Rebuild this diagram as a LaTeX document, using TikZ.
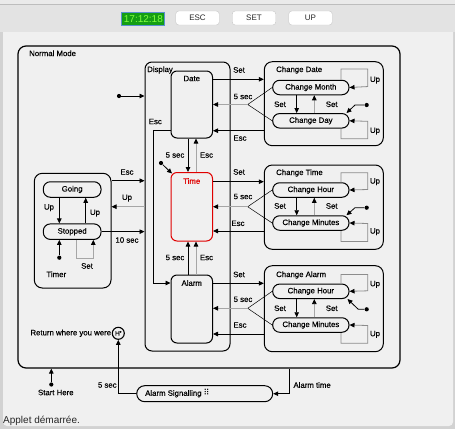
\documentclass[tikz,border=0pt]{standalone}
\usepackage{fontspec}
\setmainfont{Liberation Sans}
\newfontfamily\djv{DejaVu Sans}
\newfontfamily\lblfam[FakeBold=0.35]{Liberation Sans}
\usetikzlibrary{arrows.meta}
\definecolor{panel}{HTML}{F0F0F0}
\definecolor{toolbar}{HTML}{E3E3E3}
\definecolor{topstrip}{HTML}{EAEAEA}
\definecolor{edgec}{HTML}{BDBDBD}
\definecolor{outerc}{HTML}{D2D2D2}
\definecolor{lgray}{HTML}{A6A6A6}
\definecolor{loopgray}{HTML}{8C8C8C}
\definecolor{timeg}{HTML}{149E14}
\definecolor{timet}{HTML}{80FF40}
\definecolor{timeb}{HTML}{5A8FD0}
\definecolor{stred}{HTML}{E00000}
\begin{document}
\begin{tikzpicture}[x=1pt,y=-1pt,
  lbl/.style={inner sep=0pt, font=\lblfam\fontsize{7.8}{9}\selectfont},
  lblw/.style={lbl, anchor=west},
  statebox/.style={draw, line width=1pt, rounded corners=6pt, inner sep=0pt},
  pill/.style={draw, line width=1pt, rounded corners=7pt, inner sep=0pt, minimum width=76.3pt, minimum height=14.5pt, font=\lblfam\fontsize{7.8}{9}\selectfont},
  tr/.style={line width=0.8pt, -{Triangle[length=5pt,width=4.5pt,color=black]}},
  grtr/.style={tr, draw=lgray},
  looptr/.style={tr, draw=loopgray},
  thinln/.style={line width=0.5pt},
  dotn/.style={circle, fill=black, inner sep=0pt, minimum size=4.2pt},
  btn/.style={draw=gray!45, fill=white, rounded corners=3pt, minimum width=43.5pt, minimum height=14pt, inner sep=0pt, font=\fontsize{8}{9}\selectfont, text=black!85}
]
\useasboundingbox (0,0) rectangle (455,429);
% window background
\fill[outerc] (0,0) rectangle (455,429);
\fill[panel, rounded corners=4pt] (3,28) rectangle (453,426);
\fill[toolbar] (0,5) rectangle (455,32);
\fill[topstrip] (0,0) rectangle (455,4.5);
\draw[edgec, line width=0.8pt] (0,4.7) -- (455,4.7);
% toolbar
\node[draw=timeb, line width=1pt, fill=timeg, text=timet, minimum width=43pt, minimum height=13pt, inner sep=0pt, font=\fontsize{10}{10}\selectfont] (clock) at (143.4,18.6) {17:12:18};
\node[btn] (besc) at (197.5,18) {ESC};
\node[btn] (bset) at (254,18) {SET};
\node[btn] (bup) at (310.5,18) {UP};

% Normal mode
\node[draw, line width=1.2pt, rounded corners=8pt, minimum width=382pt, minimum height=322pt, inner sep=0pt] (nm) at (209,207) {};
\node[lblw] (nmlbl) at (29,53.3) {Normal Mode};

% Display
\node[statebox, rounded corners=7pt, minimum width=85pt, minimum height=289pt] (disp) at (187.5,206.5) {};
\node[lblw] (displbl) at (147,70) {Display};
\node[statebox, minimum width=41.5pt, minimum height=67pt] (date) at (191.75,104.5) {};
\node[lbl] (datelbl) at (191.75,78.5) {Date};
\node[statebox, draw=stred, minimum width=41.5pt, minimum height=68.5pt] (time) at (191.75,206.75) {};
\node[lbl, text=stred] (timelbl) at (191.75,181) {Time};
\node[statebox, minimum width=41.5pt, minimum height=68pt] (alarm) at (191.75,309) {};
\node[lbl] (alarmlbl) at (191.75,283) {Alarm};

\node[dotn] (dispdot) at (119,96) {};
\draw[tr] (dispdot) -- (dispdot -| disp.west);

\draw[tr] ([xshift=-3.75pt]date.south) -- ([xshift=-3.75pt]time.north);
\draw[grtr] ([xshift=4.25pt]time.north) -- ([xshift=4.25pt]date.south);
\node[lbl] (l1) at (175,155) {5 sec};
\node[lbl] (l2) at (206.5,155) {Esc};
\draw[tr] ([xshift=-3.75pt]alarm.north) -- ([xshift=-3.75pt]time.south);
\draw[grtr] ([xshift=4.25pt]alarm.north) -- ([xshift=4.25pt]time.south);
\node[lbl] (l3) at (175,257.5) {5 sec};
\node[lbl] (l4) at (206.5,257.5) {Esc};

\node[dotn] (timedot) at (161,163) {};
\draw[tr] (timedot) -- ([shift={(1.5pt,-1.5pt)}]time.north west);

\coordinate (yDE) at (0,130.3);
\coordinate (xDE) at (153.3,0);
\coordinate (yAE) at (0,283);
\draw[tr] (date.west |- yDE) -| (xDE |- yAE) -- (alarm.west |- yAE);
\node[lbl] (l5) at (155.3,121.5) {Esc};

% Timer
\node[statebox, rounded corners=8pt, minimum width=76.7pt, minimum height=114.7pt] (timer) at (72.65,230.65) {};
\node[lbl] (timerlbl) at (56.3,274.3) {Timer};
\node[pill, minimum width=57.7pt, minimum height=15.5pt] (going) at (72.15,189.5) {Going};
\node[pill, minimum width=57.7pt, minimum height=15.5pt] (stopped) at (72.15,231.65) {Stopped};
\draw[tr] ([xshift=-12.85pt]going.south) -- ([xshift=-12.85pt]stopped.north);
\draw[tr] ([xshift=13.55pt]stopped.north) -- ([xshift=13.55pt]going.south);
\node[lbl] (l6) at (49,207.7) {Up};
\node[lbl] (l7) at (95,213) {Up};
\node[dotn] (timerdot) at (59.3,257.7) {};
\draw[tr] (timerdot) -- (timerdot |- stopped.south);
\draw[grtr] ([xshift=3.85pt]stopped.south) -- ++(0,18) -| ([xshift=21.15pt]stopped.south);
\node[lbl] (l8) at (87,266) {Set};

\coordinate (yTE) at (0,180.7);
\coordinate (yTU) at (0,206.7);
\draw[tr] (timer.east |- yTE) -- (disp.west |- yTE);
\draw[grtr] (disp.west |- yTU) -- (timer.east |- yTU);
\draw[tr] (stopped.east) -- (stopped.east -| disp.west);
\node[lbl] (l9) at (127,172) {Esc};
\node[lbl] (l10) at (127,198) {Up};
\node[lbl] (l11) at (127,240) {10 sec};

% Change Date
\node[statebox, rounded corners=8pt, minimum width=119pt, minimum height=84pt] (cdate) at (323.8,103.7) {};
\node[lblw] (cdatelbl) at (276,70) {Change Date};
\node[pill] (cmonth) at (310.85,87.5) {Change Month};
\node[pill] (cday) at (310.85,120.8) {Change Day};
\draw[tr] ([xshift=-14.15pt]cmonth.south) -- ([xshift=-14.15pt]cday.north);
\draw[grtr] ([xshift=3.45pt]cday.north) -- ([xshift=3.45pt]cmonth.south);
\node[lbl] (l12) at (280,104.3) {Set};
\node[lbl] (l13) at (331.7,104.3) {Set};
\draw[looptr] ([xshift=30.15pt]cmonth.north) -- ++(0,-10.7) -| ++(26.7,17.5) -- (cmonth.east);
\draw[looptr] ([xshift=30.15pt]cday.south) -- ++(0,10.25) -| ++(26.7,-17.5) -- (cday.east);
\node[lbl] (l14) at (375,80) {Up};
\node[lbl] (l15) at (375,131) {Up};
\node[dotn] (cdatedot) at (366.7,105) {};
\draw[tr] (cdatedot) -- ++(-11.7,0) -- ([xshift=-3pt]cday.north east);
\coordinate (cv1) at (247.7,104.5);
\draw[thinln] (cmonth.west) -- (cv1) -- (cday.west);
\draw[grtr] (cv1) -- (cv1 -| date.east);
\coordinate (ySD) at (0,79.3);
\coordinate (yED) at (0,130.7);
\draw[tr] (date.east |- ySD) -- (cdate.west |- ySD);
\draw[tr] (cdate.west |- yED) -- (date.east |- yED);
\node[lbl] (l16) at (239,70) {Set};
\node[lbl] (l17) at (243,96.5) {5 sec};
\node[lbl] (l18) at (240,138) {Esc};

% Change Time
\node[statebox, rounded corners=8pt, minimum width=119pt, minimum height=84.3pt] (ctime) at (323.8,207.15) {};
\node[lblw] (ctimelbl) at (276,173) {Change Time};
\node[pill] (thour) at (310.85,190) {Change Hour};
\node[pill] (tmin) at (310.85,223) {Change Minutes};
\draw[tr] ([xshift=-14.15pt]thour.south) -- ([xshift=-14.15pt]tmin.north);
\draw[grtr] ([xshift=3.45pt]tmin.north) -- ([xshift=3.45pt]thour.south);
\node[lbl] (l19) at (280,206) {Set};
\node[lbl] (l20) at (331.7,206) {Set};
\draw[looptr] ([xshift=30.15pt]thour.north) -- ++(0,-9.45) -| ++(26.7,16.7) -- (thour.east);
\draw[looptr] ([xshift=30.15pt]tmin.south) -- ++(0,10.75) -| ++(26.7,-18) -- (tmin.east);
\node[lbl] (l21) at (375,181.7) {Up};
\node[lbl] (l22) at (375,231.7) {Up};
\node[dotn] (ctimedot) at (366.7,207.7) {};
\draw[tr] (ctimedot) -- ++(-11.7,0) -- ([xshift=-3pt]tmin.north east);
\coordinate (cv2) at (247.7,206.7);
\draw[thinln] (thour.west) -- (cv2) -- (tmin.west);
\draw[grtr] (cv2) -- (cv2 -| time.east);
\coordinate (yST) at (0,181.7);
\coordinate (yET) at (0,231);
\draw[tr] (time.east |- yST) -- (ctime.west |- yST);
\draw[tr] (ctime.west |- yET) -- (time.east |- yET);
\node[lbl] (l23) at (239,172) {Set};
\node[lbl] (l24) at (243,196.5) {5 sec};
\node[lbl] (l25) at (238,223.3) {Esc};

% Change Alarm
\node[statebox, rounded corners=8pt, minimum width=119pt, minimum height=86pt] (calarm) at (323.8,308.7) {};
\node[lblw] (calarmlbl) at (276,275) {Change Alarm};
\node[pill] (ahour) at (310.85,291.3) {Change Hour};
\node[pill] (amin) at (310.85,325) {Change Minutes};
\draw[tr] ([xshift=-14.15pt]ahour.south) -- ([xshift=-14.15pt]amin.north);
\draw[grtr] ([xshift=3.45pt]amin.north) -- ([xshift=3.45pt]ahour.south);
\node[lbl] (l26) at (280,308.3) {Set};
\node[lbl] (l27) at (331.7,308.3) {Set};
\draw[looptr] ([xshift=30.15pt]ahour.north) -- ++(0,-9) -| ++(26.7,16.25) -- (ahour.east);
\draw[looptr] ([xshift=30.15pt]amin.south) -- ++(0,10.45) -| ++(26.7,-17.7) -- (amin.east);
\node[lbl] (l28) at (375,284.3) {Up};
\node[lbl] (l29) at (375,334.3) {Up};
\node[dotn] (calarmdot) at (366.7,309.3) {};
\draw[tr] (calarmdot) -- ++(-8.4,0) -- ([xshift=-2pt]ahour.south east);
\coordinate (cv3) at (247.7,308.3);
\draw[thinln] (ahour.west) -- (cv3) -- (amin.west);
\draw[grtr] (cv3) -- (cv3 -| alarm.east);
\coordinate (ySA) at (0,283.3);
\coordinate (yEA) at (0,334);
\draw[tr] (alarm.east |- ySA) -- (calarm.west |- ySA);
\draw[tr] (calarm.west |- yEA) -- (alarm.east |- yEA);
\node[lbl] (l30) at (239,274.5) {Set};
\node[lbl] (l31) at (243,299.3) {5 sec};
\node[lbl] (l32) at (240,325) {Esc};

% bottom
\node[draw, circle, line width=1.1pt, minimum size=12pt, inner sep=0pt, font=\lblfam\fontsize{6.5}{6.5}\selectfont] (hist) at (118.3,333.3) {H\raisebox{1.4pt}{\fontsize{4.5}{4.5}\selectfont*}};
\node[lbl, anchor=east] (histlbl) at (111.3,333.3) {Return where you were};
\node[pill, minimum width=136pt, minimum height=16pt, rounded corners=8pt] (asig) at (204.7,393.7) {};
\node[lblw] (asiglbl) at (145,393.5) {Alarm Signalling {\djv\fontsize{8}{8}\selectfont ⠿}};
\draw[tr] (asig.west) -| (hist.south);
\node[lbl] (l33) at (107.3,385) {5 sec};
\coordinate (xAT) at (289.3,0);
\draw[tr] (nm.south -| xAT) |- (asig.east);
\node[lblw] (l34) at (293.3,385) {Alarm time};
\node[dotn] (startdot) at (51.3,384.5) {};
\draw[tr] (startdot) -- (startdot |- nm.south);
\node[lbl] (startlbl) at (55.8,392.5) {Start Here};

\node[anchor=west, inner sep=0pt, font=\fontsize{10}{12}\selectfont, text=black!85] (status) at (3,420.5) {Applet démarrée.};
\end{tikzpicture}
\end{document}
